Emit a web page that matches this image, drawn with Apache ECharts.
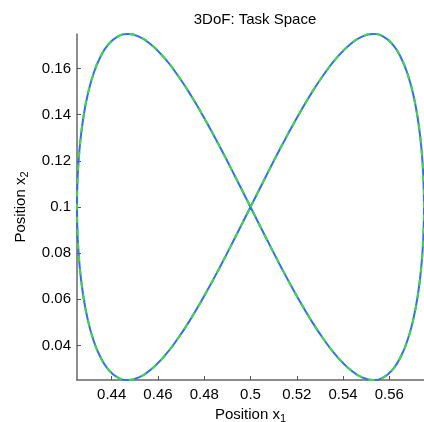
<!DOCTYPE html>
<html>
<head>
<meta charset="utf-8">
<script src="https://cdn.jsdelivr.net/npm/echarts@6/dist/echarts.min.js"></script>
<style>
  html, body { margin: 0; padding: 0; background: #fff; }
  #chart { width: 424px; height: 422px; }
</style>
</head>
<body>
<div id="chart"></div>
<script>
const posX1 = [0.5, 0.50654, 0.51302, 0.51941, 0.52565, 0.53170, 0.5375, 0.54302, 0.54821, 0.55303,
  0.55745, 0.56144, 0.56495, 0.56797, 0.57048, 0.57244, 0.57386, 0.57471, 0.575,
  0.57471, 0.57386, 0.57244, 0.57048, 0.56797, 0.56495, 0.56144, 0.55745, 0.55303,
  0.54821, 0.54302, 0.5375, 0.53170, 0.52565, 0.51941, 0.51302, 0.50654, 0.5,
  0.49346, 0.48698, 0.48059, 0.47435, 0.46830, 0.4625, 0.45698, 0.45179, 0.44697,
  0.44255, 0.43856, 0.43505, 0.43203, 0.42952, 0.42756, 0.42614, 0.42529, 0.425,
  0.42529, 0.42614, 0.42756, 0.42952, 0.43203, 0.43505, 0.43856, 0.44255, 0.44697,
  0.45179, 0.45698, 0.4625, 0.46830, 0.47435, 0.48059, 0.48698, 0.49346, 0.5];
const posX2 = [0.1, 0.11302, 0.12565, 0.1375, 0.14821, 0.15745, 0.16495, 0.17048, 0.17386, 0.175,
  0.17386, 0.17048, 0.16495, 0.15745, 0.14821, 0.1375, 0.12565, 0.11302, 0.1,
  0.08698, 0.07435, 0.0625, 0.05179, 0.04255, 0.03505, 0.02952, 0.02614, 0.025,
  0.02614, 0.02952, 0.03505, 0.04255, 0.05179, 0.0625, 0.07435, 0.08698, 0.1,
  0.11302, 0.12565, 0.1375, 0.14821, 0.15745, 0.16495, 0.17048, 0.17386, 0.175,
  0.17386, 0.17048, 0.16495, 0.15745, 0.14821, 0.1375, 0.12565, 0.11302, 0.1,
  0.08698, 0.07435, 0.0625, 0.05179, 0.04255, 0.03505, 0.02952, 0.02614, 0.025,
  0.02614, 0.02952, 0.03505, 0.04255, 0.05179, 0.0625, 0.07435, 0.08698, 0.1];
const xTicks = [0.44, 0.46, 0.48, 0.5, 0.52, 0.54, 0.56];
const yTicks = [0.04, 0.06, 0.08, 0.1, 0.12, 0.14, 0.16];

const chart = echarts.init(document.getElementById('chart'));
const pts = posX1.map((x, i) => [x, posX2[i]]);
const font = 'Liberation Sans, Arial, sans-serif';
const axisCommon = {
  type: 'value',
  nameLocation: 'middle',
  nameTextStyle: {
    fontFamily: font, fontSize: 15, color: '#000',
    rich: { sub: { fontFamily: font, fontSize: 11, color: '#000', padding: [10, 0, 0, 0] } }
  },
  axisLine: { show: true, lineStyle: { color: '#666', width: 1.5 } },
  axisTick: { inside: true, length: 4, lineStyle: { color: '#555' } },
  splitLine: { show: false },
  axisLabel: { fontFamily: font, fontSize: 15, color: '#000', margin: 6 }
};

chart.setOption({
  animation: false,
  title: {
    text: '3DoF: Task Space', left: 250, top: 7, textAlign: 'center',
    textStyle: { fontFamily: font, fontSize: 15, fontWeight: 'normal', color: '#000' }
  },
  grid: { left: 77, right: 0, top: 34, bottom: 42, containLabel: false, outerBoundsMode: 'none' },
  xAxis: Object.assign({}, axisCommon, {
    min: 0.425, max: 0.575, name: 'Position x{sub|1}', nameGap: 20,
    axisTick: Object.assign({}, axisCommon.axisTick, { customValues: xTicks }),
    axisLabel: Object.assign({}, axisCommon.axisLabel, { customValues: xTicks, margin: 7 })
  }),
  yAxis: Object.assign({}, axisCommon, {
    min: 0.025, max: 0.175, name: 'Position x{sub|2}', nameGap: 44,
    axisTick: Object.assign({}, axisCommon.axisTick, { customValues: yTicks }),
    axisLabel: Object.assign({}, axisCommon.axisLabel, { customValues: yTicks })
  }),
  series: [
    { type: 'line', data: pts, smooth: true, showSymbol: false,
      lineStyle: { color: '#2f6ef8', width: 2 } },
    { type: 'line', data: pts, smooth: true, showSymbol: false,
      lineStyle: { color: '#35df35', width: 2, type: [6, 7] } }
  ]
});
</script>
</body>
</html>
